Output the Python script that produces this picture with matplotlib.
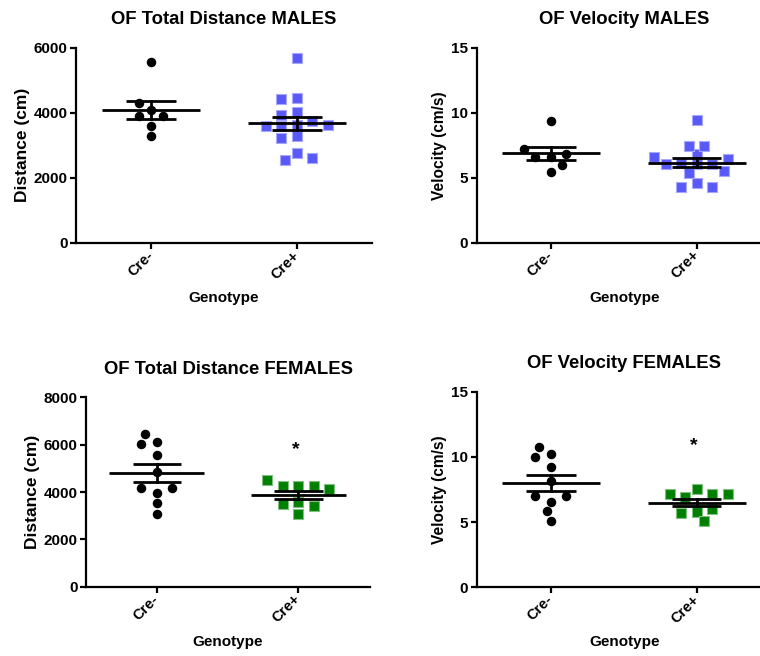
import numpy as np
import matplotlib
matplotlib.use("Agg")
import matplotlib.pyplot as plt

plt.rcParams['font.family'] = ['Liberation Sans', 'DejaVu Sans']
plt.rcParams['font.weight'] = 'bold'
plt.rcParams['axes.labelweight'] = 'bold'
plt.rcParams['axes.titleweight'] = 'bold'

groups = ["Cre-", "Cre+"]

# open field, males (n=7 / n=15)
dist_m_neg = [4100, 4300, 3900, 3900, 3600, 3280, 5550]
dist_m_pos = [3630, 3600, 3750, 3600, 3620, 4010, 3940, 4470, 4410, 3300, 3220, 2750, 2560, 2610, 5680]
vel_m_neg = [6.6, 6.6, 6.8, 7.2, 6.0, 5.46, 9.38]
vel_m_pos = [6.05, 6.15, 6.03, 6.03, 6.41, 6.57, 6.80, 5.54, 5.38, 7.44, 7.44, 4.57, 4.26, 4.31, 9.44]

# open field, females (n=10 / n=9)
dist_f_neg = [3970, 4180, 4160, 4860, 5570, 6100, 6020, 6440, 3520, 3070]
dist_f_pos = [4270, 4270, 4270, 4510, 4120, 3570, 3480, 3410, 3060]
vel_f_neg = [8.15, 6.56, 7.02, 7.02, 9.20, 10.2, 9.97, 10.74, 5.85, 5.11]
vel_f_pos = [7.52, 6.90, 7.16, 7.16, 7.13, 5.80, 5.67, 5.98, 5.11]

W, H = 760, 656
fig = plt.figure(figsize=(W / 100, H / 100), dpi=100)


def add_px_axes(l, t, r, b):
    return fig.add_axes([l / W, 1 - b / H, (r - l) / W, (b - t) / H])


def swarm(ax, vals, xc, step=7.75, rx=15.0, ry=9.5):
    # greedy dot placement, GraphPad-like
    pts = ax.transData.transform(np.column_stack([np.full(len(vals), xc), vals]))
    cands = [0.0]
    for k in range(1, 12):
        cands += [-0.5 * k, 0.5 * k]
    placed = []
    for x, y in pts:
        for c in cands:
            px = x + c * step
            if all(((px - qx) / rx) ** 2 + ((y - qy) / ry) ** 2 >= 1 for qx, qy in placed):
                break
        placed.append((px, y))
    return ax.transData.inverted().transform(np.array(placed))


panels = [
    dict(box=(76, 47.7, 372, 243), xlim=(-0.514, 1.514), ylim=6000, yticks=[0, 2000, 4000, 6000],
         data=(dist_m_neg, dist_m_pos), color='#5959F7', edge='#A8A8FF',
         title='OF Total Distance MALES', ylabel='Distance (cm)', ylsize=12.5, star=None),
    dict(box=(476.7, 47.7, 772, 242.7), xlim=(-0.507, 1.516), ylim=15, yticks=[0, 5, 10, 15],
         data=(vel_m_neg, vel_m_pos), color='#5959F7', edge='#A8A8FF',
         title='OF Velocity MALES', ylabel='Velocity (cm/s)', ylsize=11.2, star=None),
    dict(box=(86, 397.3, 370, 586.7), xlim=(-0.499, 1.505), ylim=8000, yticks=[0, 2000, 4000, 6000, 8000],
         data=(dist_f_neg, dist_f_pos), color='#008000', edge='#80C080',
         title='OF Total Distance FEMALES', ylabel='Distance (cm)', ylsize=12.5, star=5800),
    dict(box=(476.7, 391.7, 772, 587.3), xlim=(-0.507, 1.516), ylim=15, yticks=[0, 5, 10, 15],
         data=(vel_f_neg, vel_f_pos), color='#008000', edge='#80C080',
         title='OF Velocity FEMALES', ylabel='Velocity (cm/s)', ylsize=11.2, star=10.9),
]

for p in panels:
    l, t, r, b = p['box']
    ax = add_px_axes(l, t, r, b)
    ax.set_xlim(*p['xlim'])
    ax.set_ylim(0, p['ylim'])
    ax.set_yticks(p['yticks'])
    ax.set_xticks([0, 1])
    ax.set_xticklabels(groups, rotation=45, ha='right', va='center', rotation_mode='anchor')
    for s in ['top', 'right']:
        ax.spines[s].set_visible(False)
    for s in ['left', 'bottom']:
        ax.spines[s].set_linewidth(1.6)
    ax.tick_params(axis='y', length=4.5, width=1.6, pad=1.5, labelsize=11)
    ax.tick_params(axis='x', length=4.5, width=1.6, pad=3, labelsize=10.5)

    for i, vals in enumerate(p['data']):
        vals = np.asarray(vals, float)
        xy = swarm(ax, vals, i)
        if i == 0:
            ax.scatter(xy[:, 0], xy[:, 1], s=34, marker='o', color='black', zorder=3, clip_on=False)
        else:
            ax.scatter(xy[:, 0], xy[:, 1], s=42, marker='s', color=p['color'],
                       edgecolors=p['edge'], linewidths=0.8, zorder=3, clip_on=False)
        m = vals.mean()
        sem = vals.std(ddof=1) / np.sqrt(len(vals))
        ax.plot([i - 0.335, i + 0.335], [m, m], color='black', lw=2, zorder=4, solid_capstyle='butt')
        ax.plot([i - 0.17, i + 0.17], [m + sem, m + sem], color='black', lw=2, zorder=4, solid_capstyle='butt')
        ax.plot([i - 0.17, i + 0.17], [m - sem, m - sem], color='black', lw=2, zorder=4, solid_capstyle='butt')
        ax.plot([i, i], [m - sem, m + sem], color='black', lw=2, zorder=4)

    if p['star'] is not None:
        ax.text(0.98, p['star'], '*', ha='center', va='center', fontsize=14, fontweight='bold')

    ax.set_title(p['title'], fontsize=13.3, pad=17)
    hpx = b - t
    ax.set_ylabel(p['ylabel'], fontsize=p['ylsize'])
    ax.set_xlabel('Genotype', fontsize=11)
    ax.xaxis.set_label_coords(0.5, -48 / hpx)
    wpx = r - l
    off = 46 if p['ylsize'] > 12 else 29.5
    ax.yaxis.set_label_coords(-off / wpx, 0.5)

fig.savefig('out.png', dpi=100)
